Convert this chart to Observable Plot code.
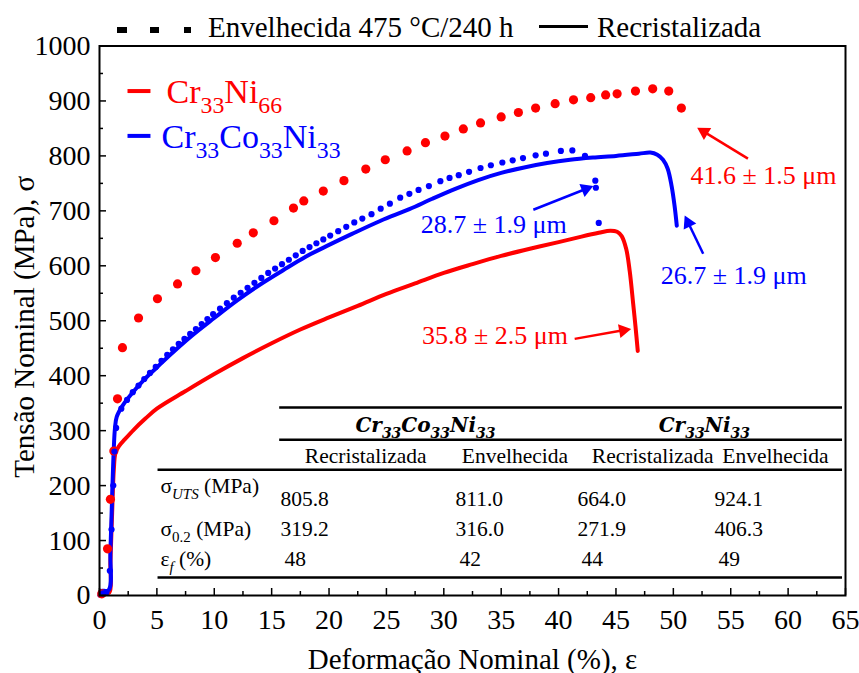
<!DOCTYPE html>
<html>
<head>
<meta charset="utf-8">
<script src="https://cdn.jsdelivr.net/npm/d3@7"></script>
<script src="https://cdn.jsdelivr.net/npm/@observablehq/plot@0.6"></script>
<style>
  body { margin: 0; background: #fff; font-family: "Liberation Serif", "Times New Roman", serif; }
  #page { width: 859px; height: 673px; position: relative; overflow: hidden; background: #fff; }
  #key { position: relative; height: 28px; font-size: 29px; color: #000; z-index: 1; }
  #key .sw { position: absolute; background: #000; }
  #key .lbl { position: absolute; top: 13px; line-height: 29px; white-space: nowrap; }
  #chart svg { display: block; }
</style>
</head>
<body>
<div id="page">
  <div id="key">
    <span class="sw" style="left:117px;top:27px;width:10px;height:6px"></span>
    <span class="sw" style="left:150px;top:27px;width:9px;height:6px"></span>
    <span class="sw" style="left:184px;top:27px;width:7px;height:6px"></span>
    <span class="lbl" style="left:208px">Envelhecida 475 °C/240 h</span>
    <span class="sw" style="left:539px;top:25px;width:49px;height:3px"></span>
    <span class="lbl" style="left:597px">Recristalizada</span>
  </div>
  <div id="chart"></div>
</div>
<script>
// Axis ticks
const strainTicks = d3.range(0, 66, 5);
const strainMinor = d3.range(2.5, 65, 5);
const stressTicks = d3.range(0, 1001, 100);
const stressMinor = d3.range(50, 1000, 100);

// Stress–strain curves: [strain %, stress MPa]
const crNiRecristalizada = [
  [0, 0], [0.2, 3], [0.85, 5], [0.95, 60], [1.1, 150], [1.25, 230], [1.4, 260], [1.7, 272],
  [2.2, 284], [3, 302], [4, 322], [5, 340], [7.5, 372], [10, 403], [12.5, 432], [15, 459],
  [17.5, 484], [20, 506], [22.5, 527], [25, 549], [27.5, 568], [30, 587], [32.5, 603],
  [35, 618], [37.5, 631], [40, 643], [42, 653], [43.5, 660], [44.5, 664], [45.1, 662],
  [45.5, 654], [45.9, 630], [46.2, 590], [46.5, 531], [46.7, 490], [46.9, 445]
];
const crCoNiRecristalizada = [
  [0, 0], [0.1, 8], [0.8, 10], [0.95, 80], [1.1, 180], [1.25, 270], [1.35, 305], [1.5, 325],
  [2, 345], [3, 372], [4, 395], [5, 415], [6, 435], [8, 472], [10, 505], [12, 537], [14, 566],
  [16, 592], [18, 617], [20, 638], [22, 658], [24.5, 682], [27, 703], [29, 722], [31, 740],
  [33, 756], [35, 769], [37, 779], [39, 787], [41, 793], [43, 797], [45, 800], [47, 804],
  [48, 806], [48.6, 802], [49.1, 793], [49.5, 777], [49.85, 745], [50.1, 710], [50.3, 673]
];
const crNiEnvelhecida = [
  [0.2, 3], [0.7, 85], [0.95, 175], [1.25, 263], [1.57, 358], [2.0, 451], [3.4, 505], [5.05, 540],
  [6.8, 567], [8.4, 591], [10.1, 615], [12.0, 641], [13.4, 660], [15.2, 682], [16.9, 705],
  [17.8, 718], [19.5, 736], [21.3, 755], [23.2, 776], [24.9, 793], [26.8, 809], [28.4, 824],
  [30.1, 836], [31.7, 849], [33.2, 860], [35.0, 871], [36.5, 879], [38.0, 887], [39.7, 895],
  [41.3, 902], [42.8, 906], [44.1, 911], [45.1, 913], [46.7, 918], [48.2, 922], [49.6, 918], [50.7, 887]
];
const crCoNiEnvelhecida = [
  [0.3, 4], [0.6, 6], [0.9, 45], [1.05, 120], [1.2, 200], [1.3, 262], [1.45, 305], [1.9, 340],
  [2.4, 356], [2.9, 370], [3.4, 382], [3.9, 394], [4.4, 405], [4.9, 416], [5.4, 427], [5.9, 438],
  [6.4, 448], [6.9, 458], [7.4, 467], [7.9, 476], [8.4, 485], [8.9, 494], [9.4, 503], [9.9, 512],
  [10.5, 522], [11.1, 532], [11.7, 542], [12.3, 551], [12.9, 560], [13.5, 569], [14.1, 578],
  [14.7, 587], [15.3, 595], [15.9, 603], [16.5, 611], [17.1, 619], [17.7, 627], [18.3, 634],
  [18.9, 641], [19.5, 648], [20.1, 655], [20.8, 663], [21.5, 671], [22.2, 679], [22.9, 686],
  [23.7, 694], [24.5, 704], [25.3, 713], [26.2, 724], [27.0, 731], [27.8, 738], [28.7, 745],
  [29.7, 754], [30.5, 760], [31.3, 765], [32.2, 771], [33.2, 778], [34.1, 783], [35.1, 788],
  [36.0, 792], [36.9, 796], [38.0, 801], [38.9, 804], [40.2, 809], [41.2, 810], [42.3, 800],
  [43.2, 755], [43.25, 742], [43.5, 678]
];

// Alloys
const alloyNames = ["Cr_{33}Ni_{66}", "Cr_{33}Co_{33}Ni_{33}"];
const alloyColors = ["#ff0000", "#0000ff"];

// Grain sizes and the alloy each belongs to
const grainLabels = ["41.6 ± 1.5 μm", "28.7 ± 1.9 μm", "26.7 ± 1.9 μm", "35.8 ± 2.5 μm"];
const grainAlloy = [0, 1, 1, 0];

// Mechanical properties table
const tableAlloys = ["Cr_{33}Co_{33}Ni_{33}", "Cr_{33}Ni_{33}"];
const tableStates = ["Recristalizada", "Envelhecida", "Recristalizada", "Envelhecida"];
const tableProps = ["σ_{~UTS} (MPa)", "σ_{0.2} (MPa)", "ε_{~f} (%)"];
const utsValues = ["805.8", "811.0", "664.0", "924.1"];
const yieldValues = ["319.2", "316.0", "271.9", "406.3"];
const elongationValues = ["48", "42", "44", "49"];

// ---- layout ----
const W = 859, H = 645, mTop = 17.5, mBottom = 78, mLeft = 99, mRight = 14;
const xDomain = [0, 65], yDomain = [0, 1000];
const pxPerStrain = (W - mLeft - mRight) / (xDomain[1] - xDomain[0]);
const pxPerStress = (H - mTop - mBottom) / (yDomain[1] - yDomain[0]);
const majorTick = 7, minorTick = 4;
const headR = 5.2;

// annotation and table placement, in chart units (strain %, stress MPa)
const grainLabelAt = [[51.5, 749], [28.0, 660], [48.9, 567], [28.1, 458]];
const grainArrowAt = [[56.5, 795, 52.1, 851], [37.8, 702, 43.0, 745], [52.6, 622, 51.0, 691], [41.4, 467, 46.3, 485]];
const keyLineAt = [[2.44, 4.44, 918], [2.44, 4.44, 836.4]];
const keyTextAt = [[5.84, 896], [5.4, 814.5]];
const tableRight = 64.74;
const tableRuleAt = [[15.7, 342], [15.7, 283.6], [5.1, 229], [5.1, 32.7]];
const alloyCenterX = [28.4, 52.7];
const alloyHeadY = 298;
const stateCenterX = [23.2, 36.2, 48.2, 58.9];
const stateY = 241.8;
const propX = 5.31;
const propY = [187, 109, 54.5];
const valueX = [15.77, 31.02, 41.65, 53.59];
const valueY = [163.6, 109, 54.5];

const serif = "'Liberation Serif','Times New Roman',serif";

const grainRows = grainLabels.map((t, i) => {
  const [x1, y1, x2, y2] = grainArrowAt[i];
  // direction of the arrow on screen, used to orient and seat a filled head at its tip
  const ax = (x2 - x1) * pxPerStrain, ay = (y2 - y1) * pxPerStress;
  const len = Math.hypot(ax, ay), back = headR * 1.5;
  return {
    t, c: alloyColors[grainAlloy[i]], x: grainLabelAt[i][0], y: grainLabelAt[i][1], x1, y1,
    hx: x2 - (ax / len) * back / pxPerStrain, hy: y2 - (ay / len) * back / pxPerStress,
    angle: Math.atan2(ax, ay) * 180 / Math.PI
  };
});
const keyRows = alloyNames.map((t, i) => ({
  t, c: alloyColors[i], x1: keyLineAt[i][0], x2: keyLineAt[i][1], ly: keyLineAt[i][2],
  x: keyTextAt[i][0], y: keyTextAt[i][1]
}));
const valueRows = [utsValues, yieldValues, elongationValues];
const cells = valueRows.flatMap((row, i) => row.map((v, j) => ({v, x: valueX[j], y: valueY[i], last: i === 2})));

const xy = {x: d => d[0], y: d => d[1]};

// inward tick marks along the bottom and left edges of the frame
const xTickMarks = (ticks, len) => Plot.ruleX(ticks, {x: d => d, y1: () => yDomain[0], y2: () => yDomain[0] + len / pxPerStress, stroke: "black", strokeWidth: 1.5});
const yTickMarks = (ticks, len) => Plot.ruleY(ticks, {y: d => d, x1: () => xDomain[0], x2: () => xDomain[0] + len / pxPerStrain, stroke: "black", strokeWidth: 1.5});

const chart = Plot.plot({
  width: W,
  height: H,
  marginTop: mTop,
  marginBottom: mBottom,
  marginLeft: mLeft,
  marginRight: mRight,
  style: {fontFamily: serif, background: "white", color: "black"},
  x: {domain: xDomain, label: null},
  y: {domain: yDomain, label: null},
  marks: [
    // table
    Plot.ruleY(tableRuleAt, {y: d => d[1], x1: d => d[0], x2: () => tableRight, strokeWidth: 2.5, stroke: "black"}),
    Plot.text(tableAlloys, {x: (d, i) => alloyCenterX[i], y: () => alloyHeadY, text: d => d, fontSize: 20,
      fontWeight: "bold", fontStyle: "italic", fontFamily: "'DejaVu Serif',serif", lineAnchor: "bottom", fill: "black"}),
    Plot.text(tableStates, {x: (d, i) => stateCenterX[i], y: () => stateY, text: d => d, fontSize: 21.5,
      lineAnchor: "bottom", fill: "black"}),
    Plot.text(tableProps, {x: () => propX, y: (d, i) => propY[i], text: d => d, fontSize: 21.5,
      textAnchor: "start", lineAnchor: "bottom", fill: "black"}),
    Plot.text(cells.filter(d => !d.last), {x: "x", y: "y", text: "v", fontSize: 21.5, textAnchor: "start", lineAnchor: "bottom", fill: "black"}),
    Plot.text(cells.filter(d => d.last), {x: "x", y: "y", text: "v", dx: 4, fontSize: 21.5, textAnchor: "start", lineAnchor: "bottom", fill: "black"}),

    // curves
    Plot.line(crNiRecristalizada, {...xy, stroke: alloyColors[0], strokeWidth: 4, curve: "catmull-rom"}),
    Plot.line(crCoNiRecristalizada, {...xy, stroke: alloyColors[1], strokeWidth: 4, curve: "catmull-rom"}),
    Plot.dot(crNiEnvelhecida, {...xy, r: 4.6, fill: alloyColors[0], stroke: "none"}),
    Plot.dot(crCoNiEnvelhecida, {...xy, r: 3.1, fill: alloyColors[1], stroke: "none"}),

    // grain size annotations: shaft, filled head, label
    Plot.link(grainRows, {x1: "x1", y1: "y1", x2: "hx", y2: "hy", stroke: "c", strokeWidth: 2.5}),
    Plot.dot(grainRows, {x: "hx", y: "hy", rotate: "angle", symbol: "triangle", r: headR, fill: "c", stroke: "none"}),
    Plot.text(grainRows, {x: "x", y: "y", text: "t", fill: "c", fontSize: 26, textAnchor: "start", lineAnchor: "bottom"}),

    // alloy key
    Plot.link(keyRows, {x1: "x1", x2: "x2", y1: "ly", y2: "ly", stroke: "c", strokeWidth: 4}),
    Plot.text(keyRows, {x: "x", y: "y", text: "t", fill: "c", fontSize: 34, textAnchor: "start", lineAnchor: "bottom"}),

    // frame, ticks and axes
    Plot.frame({stroke: "black", strokeWidth: 2}),
    xTickMarks(strainMinor, minorTick),
    xTickMarks(strainTicks, majorTick),
    yTickMarks(stressMinor, minorTick),
    yTickMarks(stressTicks, majorTick),
    Plot.axisX(strainTicks, {tickSize: 0, tickPadding: 14, fontSize: 28, tickFormat: d => String(d), label: null}),
    Plot.axisY(stressTicks, {tickSize: 0, tickPadding: 9, fontSize: 28, tickFormat: d => String(d), label: null}),
    Plot.text(["Deformação Nominal (%), ε"], {frameAnchor: "bottom", dy: 73, fontSize: 29, textAnchor: "middle", lineAnchor: "bottom", fill: "black"}),
    Plot.text(["Tensão Nominal (MPa), σ"], {frameAnchor: "left", dx: -66, dy: 6, rotate: -90, fontSize: 29, textAnchor: "middle", lineAnchor: "bottom", fill: "black"})
  ]
});

document.getElementById("chart").appendChild(chart);

// Render "_{...}" as subscripts ("~" marks an italic subscript)
function subscripts(svg) {
  const ns = "http://www.w3.org/2000/svg";
  for (const t of svg.querySelectorAll("text")) {
    const s = t.textContent;
    if (!s.includes("_{")) continue;
    const fs = parseFloat(getComputedStyle(t).fontSize);
    const shift = 0.3 * fs;
    t.textContent = "";
    let low = false;
    for (const part of s.split(/(_\{[^}]*\})/)) {
      if (!part) continue;
      const ts = document.createElementNS(ns, "tspan");
      if (part.startsWith("_{")) {
        let body = part.slice(2, -1);
        if (body.startsWith("~")) { body = body.slice(1); ts.setAttribute("font-style", "italic"); }
        ts.setAttribute("font-size", (0.7 * fs).toFixed(1));
        if (!low) ts.setAttribute("dy", shift.toFixed(1));
        low = true;
        ts.textContent = body;
      } else {
        if (low) ts.setAttribute("dy", (-shift).toFixed(1));
        low = false;
        ts.textContent = part;
      }
      t.appendChild(ts);
    }
  }
}
subscripts(chart);
</script>
</body>
</html>
